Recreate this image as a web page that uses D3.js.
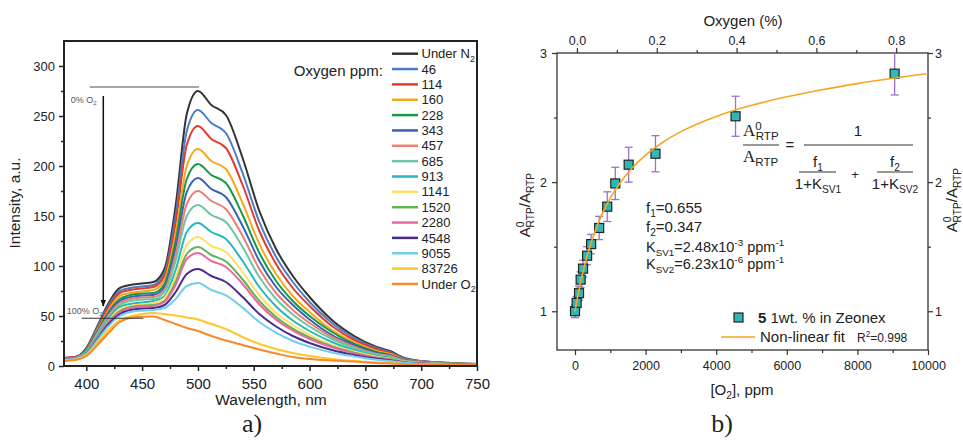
<!DOCTYPE html>
<html>
<head>
<meta charset="utf-8">
<script src="https://cdn.jsdelivr.net/npm/d3@7"></script>
<style>
  body { margin: 0; background: #fff; }
  svg text { font-family: "Liberation Sans", Arial, sans-serif; fill: #222; }
  .serif { font-family: "Liberation Serif", "Times New Roman", serif; }
</style>
</head>
<body>
<svg id="chart" width="963" height="440"></svg>
<script>
// ---- panel a) emission spectra ----
const wavelengths = [380, 390, 400, 410, 420, 430, 445, 460, 470, 480, 490, 500, 512, 525, 540, 555, 570, 585, 600, 620, 640, 660, 672, 685, 700, 750];

const underN2  = [8, 9, 18, 40, 63, 78, 82, 84, 97, 160, 252, 275, 261, 251, 208, 155, 117, 90, 69, 46, 30, 19, 15, 8, 5, 2];
const ppm46    = [8, 9, 17, 39, 61, 75, 79, 81, 93, 151, 235, 256, 243, 233, 193, 144, 109, 84, 64, 43, 28, 18, 14, 7.5, 5, 2];
const ppm114   = [8, 9, 17, 37, 59, 73, 77, 79, 90, 143, 221, 240, 227, 218, 181, 135, 102, 78, 60, 40, 26, 17, 13, 7, 4.6, 1.8];
const ppm160   = [7, 8, 16, 36, 56, 70, 74, 76, 86, 132, 200, 217, 205, 197, 163, 122, 92, 70, 54, 36, 24, 15, 12, 6.6, 4.2, 1.7];
const ppm228   = [7, 8, 16, 35, 54, 67, 72, 73, 82, 125, 187, 202, 191, 183, 151, 113, 85, 65, 50, 34, 22, 14, 11, 6.2, 4, 1.7];
const ppm343   = [7, 8, 15, 34, 53, 65, 70, 71, 79, 118, 174, 188, 177, 169, 140, 105, 79, 61, 46.5, 31, 21, 13, 10.5, 5.8, 3.8, 1.6];
const ppm457   = [7, 8, 15, 33, 51, 63, 68, 69, 76, 111, 162, 175, 165, 157, 130, 97, 73, 56, 43, 29, 19, 12, 10, 5.5, 3.6, 1.6];
const ppm685   = [7, 8, 14, 32, 49, 61, 66, 67, 74, 105, 150, 161, 151, 144, 119, 89, 67, 51.5, 39.5, 27, 18, 11.4, 9, 5.2, 3.4, 1.5];
const ppm913   = [7, 8, 14, 30, 47, 59, 63, 65, 70, 96, 134, 143, 134, 127, 105, 79, 59.5, 45.5, 35, 24, 16, 10, 8, 4.7, 3.1, 1.4];
const ppm1141  = [6, 7, 13, 29, 45, 57, 61, 63, 68, 89, 121, 129, 120, 114, 94, 71, 53, 41, 31, 21, 14.5, 9.3, 7.4, 4.4, 2.9, 1.4];
const ppm1520  = [6, 7, 13, 29, 44, 55, 60, 61, 65, 84, 112, 119, 111, 104.5, 86.5, 65, 49, 37.4, 28.7, 19.7, 13.4, 8.6, 6.9, 4.1, 2.8, 1.3];
const ppm2280  = [6, 7, 13, 28, 44, 54, 59, 60, 64, 81, 107, 113, 105, 99, 82, 61.5, 46.4, 35.3, 27, 18.7, 12.8, 8.2, 6.6, 4, 2.7, 1.3];
const ppm4548  = [6, 7, 12, 27, 42, 52, 57, 58, 61, 74, 92, 97, 90, 84, 69, 52, 39.5, 30, 23, 16, 11, 7.2, 5.7, 3.6, 2.4, 1.2];
const ppm9055  = [6, 7, 12, 26, 40, 50, 55, 56, 58, 67, 80, 83, 76, 70.6, 58.4, 44, 33.4, 25, 19.4, 13.6, 9.6, 6.2, 5, 3.2, 2.2, 1.2];
const ppm83726 = [5.5, 6.5, 11, 23, 36, 46, 51, 53, 52, 50.5, 48.5, 46.5, 42, 37, 29, 22, 17, 13, 10, 7, 5, 3.5, 3, 2, 1.5, 1];
const underO2  = [5, 6, 10, 21, 33, 44, 49, 49.5, 46, 42, 38, 35, 30, 25.5, 21, 16.5, 12.5, 9, 7, 5.5, 4.5, 3, 2.5, 2, 1.5, 1];

const spectra = [underN2, ppm46, ppm114, ppm160, ppm228, ppm343, ppm457, ppm685, ppm913,
                 ppm1141, ppm1520, ppm2280, ppm4548, ppm9055, ppm83726, underO2];
const spectraLabels = ["Under N2", "46", "114", "160", "228", "343", "457", "685", "913",
                       "1141", "1520", "2280", "4548", "9055", "83726", "Under O2"];
const spectraColors = ["#333333", "#4a7cc8", "#e23b2e", "#f5a81c", "#17994a", "#3c62b3", "#ee7d72", "#6cc6a2",
                       "#26b7bf", "#ffe066", "#5cb653", "#e96a9f", "#4a2c8f", "#70cfea", "#ffc72c", "#f7892b"];

const xTicksL = [400, 450, 500, 550, 600, 650, 700, 750];
const xMinorL = [425, 475, 525, 575, 625, 675, 725];
const yTicksL = [0, 50, 100, 150, 200, 250, 300];
const yMinorL = [25, 75, 125, 175, 225, 275];

// ---- panel b) Stern-Volmer ----
const o2ppm    = [0, 46, 114, 160, 228, 343, 457, 685, 913, 1141, 1520, 2280, 4548, 9055];
const ratio    = [1.0, 1.065, 1.14, 1.245, 1.33, 1.43, 1.52, 1.645, 1.81, 1.99, 2.135, 2.22, 2.51, 2.84];
const ratioErr = [0.05, 0.05, 0.055, 0.06, 0.065, 0.07, 0.075, 0.09, 0.115, 0.125, 0.135, 0.14, 0.155, 0.165];
const fitPpm   = [0, 100, 200, 300, 400, 600, 800, 1000, 1300, 1600, 2000, 2500, 3000, 4000, 5000, 6000, 7000, 8000, 9000, 10000];
const fitRatio = [1.0, 1.147, 1.275, 1.385, 1.482, 1.642, 1.771, 1.876, 2.003, 2.104, 2.209, 2.311, 2.391, 2.509, 2.595, 2.661, 2.716, 2.763, 2.804, 2.841];

const xTicksR = [0, 2000, 4000, 6000, 8000, 10000];
const xMinorR = [1000, 3000, 5000, 7000, 9000];
const topTicks = [0, 0.2, 0.4, 0.6, 0.8];
const topMinor = [0.1, 0.3, 0.5, 0.7];
const yTicksR = [1, 2, 3];
const yMinorR = [1.5, 2.5];

const svg = d3.select("#chart");

// text with sub/superscript parts: [text, kind, dx]
function rich(g, x, y, parts, size, anchor) {
  const t = g.append("text").attr("x", x).attr("y", y)
    .attr("font-size", size).attr("text-anchor", anchor || "start");
  let shift = 0;
  parts.forEach(([txt, kind, dx]) => {
    const target = kind === "sub" ? size * 0.25 : kind === "sup" ? -size * 0.38 : 0;
    const s = t.append("tspan").text(txt).attr("dy", target - shift);
    if (kind === "sub" || kind === "sup") s.attr("font-size", size * 0.68);
    if (kind === "bold") s.attr("font-weight", "bold");
    if (dx) s.attr("dx", dx);
    shift = target;
  });
  return t;
}

function styleAxis(g, size, color, width) {
  g.select(".domain").remove();
  g.selectAll(".tick line").attr("stroke", color).attr("stroke-width", width);
  g.selectAll(".tick text").attr("font-size", size).attr("fill", "#222")
    .style("font-family", '"Liberation Sans", Arial, sans-serif');
}

// ================= panel a =================
const xL = d3.scaleLinear().domain([380, 750]).range([64, 477]);
const yL = d3.scaleLinear().domain([0, 325]).range([366, 41]);
const gL = svg.append("g");

const defs = svg.append("defs");
defs.append("clipPath").attr("id", "clipL").append("rect")
  .attr("x", 64).attr("y", 41).attr("width", 413).attr("height", 325);
defs.append("clipPath").attr("id", "clipR").append("rect")
  .attr("x", 557).attr("y", 53).attr("width", 371).attr("height", 297);
defs.append("marker").attr("id", "arrow").attr("viewBox", "0 0 10 10")
  .attr("refX", 9).attr("refY", 5).attr("markerWidth", 7).attr("markerHeight", 7)
  .attr("orient", "auto").attr("markerUnits", "userSpaceOnUse")
  .append("path").attr("d", "M0,1 L10,5 L0,9 Z").attr("fill", "#111");

const specLine = d3.line()
  .x((d, i) => xL(wavelengths[i]))
  .y(d => yL(d))
  .curve(d3.curveMonotoneX);

const curves = gL.append("g").attr("clip-path", "url(#clipL)");
spectra.forEach((s, i) => {
  curves.append("path").attr("d", specLine(s)).attr("fill", "none")
    .attr("stroke", spectraColors[i]).attr("stroke-width", 2).attr("stroke-linejoin", "round");
});

// axes a
const axBL = gL.append("g").attr("transform", "translate(0,366)")
  .call(d3.axisBottom(xL).tickValues(xTicksL).tickSize(5).tickPadding(7).tickFormat(d3.format("d")));
styleAxis(axBL, 15, "#222", 1.5);
const axBLm = gL.append("g").attr("transform", "translate(0,366)")
  .call(d3.axisBottom(xL).tickValues(xMinorL).tickSize(3).tickFormat(""));
styleAxis(axBLm, 15, "#222", 1.5);
const axLL = gL.append("g").attr("transform", "translate(64,0)")
  .call(d3.axisLeft(yL).tickValues(yTicksL).tickSize(5).tickPadding(4));
styleAxis(axLL, 13, "#222", 1.5);
const axLLm = gL.append("g").attr("transform", "translate(64,0)")
  .call(d3.axisLeft(yL).tickValues(yMinorL).tickSize(3).tickFormat(""));
styleAxis(axLLm, 13, "#222", 1.5);

gL.append("rect").attr("x", 64).attr("y", 41).attr("width", 413).attr("height", 325)
  .attr("fill", "none").attr("stroke", "#222").attr("stroke-width", 2);

gL.append("text").attr("transform", "translate(20,203) rotate(-90)")
  .attr("text-anchor", "middle").attr("font-size", 15.5).text("Intensity, a.u.");
gL.append("text").attr("x", 271).attr("y", 405).attr("text-anchor", "middle")
  .attr("font-size", 15.5).text("Wavelength, nm");
gL.append("text").attr("class", "serif").attr("x", 252).attr("y", 432)
  .attr("text-anchor", "middle").attr("font-size", 26).text("a)");

// annotations a
gL.append("line").attr("x1", xL(403)).attr("x2", xL(501)).attr("y1", yL(279)).attr("y2", yL(279))
  .attr("stroke", "#8a8a8a").attr("stroke-width", 1.3);
gL.append("line").attr("x1", xL(396)).attr("x2", xL(451)).attr("y1", yL(47.7)).attr("y2", yL(47.7))
  .attr("stroke", "#333").attr("stroke-width", 1.1);
gL.append("line").attr("x1", xL(415.2)).attr("x2", xL(415.2)).attr("y1", yL(270)).attr("y2", yL(60))
  .attr("stroke", "#111").attr("stroke-width", 1.5).attr("marker-end", "url(#arrow)");
rich(gL, xL(386), yL(263), [["0% O"], ["2", "sub"]], 9).selectAll("tspan").attr("fill", "#555");
rich(gL, xL(382.5), yL(52), [["100% O"], ["2", "sub"]], 9).selectAll("tspan").attr("fill", "#555");

// legend a
gL.append("text").attr("x", 383).attr("y", 76).attr("text-anchor", "end")
  .attr("font-size", 15).text("Oxygen ppm:");
spectraLabels.forEach((lab, i) => {
  const y = 53.7 + i * 15.35;
  gL.append("line").attr("x1", 392).attr("x2", 418).attr("y1", y).attr("y2", y)
    .attr("stroke", spectraColors[i]).attr("stroke-width", 2.5);
  const parts = lab.startsWith("Under") ? [[lab.slice(0, -1)], [lab.slice(-1), "sub"]] : [[lab]];
  rich(gL, 421.5, y + 4.6, parts, 13);
});

// ================= panel b =================
const xR = d3.scaleLinear().domain([-510, 10000]).range([557, 928]);
const xTop = d3.scaleLinear().domain([-0.05, 0.8797]).range([557, 928]);
const yR = d3.scaleLinear().domain([0.7, 3]).range([350, 53]);
const gR = svg.append("g");

const axC = "#333";
const axBR = gR.append("g").attr("transform", "translate(0,350)")
  .call(d3.axisBottom(xR).tickValues(xTicksR).tickSize(5).tickPadding(6).tickFormat(d3.format("d")));
styleAxis(axBR, 12.5, axC, 1.2);
styleAxis(gR.append("g").attr("transform", "translate(0,350)")
  .call(d3.axisBottom(xR).tickValues(xMinorR).tickSize(3).tickFormat("")), 12.5, axC, 1.2);
const axTR = gR.append("g").attr("transform", "translate(0,53)")
  .call(d3.axisTop(xTop).tickValues(topTicks).tickSize(5).tickPadding(3).tickFormat(d3.format(".1f")));
styleAxis(axTR, 12.5, axC, 1.2);
styleAxis(gR.append("g").attr("transform", "translate(0,53)")
  .call(d3.axisTop(xTop).tickValues(topMinor).tickSize(3).tickFormat("")), 12.5, axC, 1.2);
const axLR = gR.append("g").attr("transform", "translate(557,0)")
  .call(d3.axisLeft(yR).tickValues(yTicksR).tickSize(5).tickPadding(5).tickFormat(d3.format("d")));
styleAxis(axLR, 12.5, axC, 1.2);
styleAxis(gR.append("g").attr("transform", "translate(557,0)")
  .call(d3.axisLeft(yR).tickValues(yMinorR).tickSize(3).tickFormat("")), 12.5, axC, 1.2);
const axRR = gR.append("g").attr("transform", "translate(928,0)")
  .call(d3.axisRight(yR).tickValues(yTicksR).tickSize(5).tickPadding(2).tickFormat(d3.format("d")));
styleAxis(axRR, 12.5, axC, 1.2);
styleAxis(gR.append("g").attr("transform", "translate(928,0)")
  .call(d3.axisRight(yR).tickValues(yMinorR).tickSize(3).tickFormat("")), 12.5, axC, 1.2);

gR.append("rect").attr("x", 557).attr("y", 53).attr("width", 371).attr("height", 297)
  .attr("fill", "none").attr("stroke", axC).attr("stroke-width", 1.3);

// data b
const plotR = gR.append("g").attr("clip-path", "url(#clipR)");
const errC = "#9b72c6";
o2ppm.forEach((x, i) => {
  const cx = xR(x), y1 = yR(ratio[i] - ratioErr[i]), y2 = yR(ratio[i] + ratioErr[i]);
  plotR.append("line").attr("x1", cx).attr("x2", cx).attr("y1", y1).attr("y2", y2)
    .attr("stroke", errC).attr("stroke-width", 1.3);
  [y1, y2].forEach(yy => plotR.append("line").attr("x1", cx - 4).attr("x2", cx + 4)
    .attr("y1", yy).attr("y2", yy).attr("stroke", errC).attr("stroke-width", 1.3));
});
plotR.selectAll("rect.pt").data(o2ppm).join("rect").attr("class", "pt")
  .attr("x", d => xR(d) - 4.5).attr("y", (d, i) => yR(ratio[i]) - 4.5)
  .attr("width", 9).attr("height", 9)
  .attr("fill", "#2fb8b8").attr("stroke", "#222").attr("stroke-width", 1.2);
const fitLine = d3.line().x((d, i) => xR(fitPpm[i])).y(d => yR(d)).curve(d3.curveMonotoneX);
plotR.append("path").attr("d", fitLine(fitRatio)).attr("fill", "none")
  .attr("stroke", "#f5a623").attr("stroke-width", 1.6);

// axis labels b
gR.append("text").attr("x", 743).attr("y", 26).attr("text-anchor", "middle")
  .attr("font-size", 15).text("Oxygen (%)");
rich(gR, 742, 395, [["[O"], ["2", "sub"], ["], ppm"]], 15, "middle");
gR.append("text").attr("class", "serif").attr("x", 722).attr("y", 432)
  .attr("text-anchor", "middle").attr("font-size", 26).text("b)");

function ratioLabel(x, y) {
  const t = rich(gR, 0, 0, [["A"], ["0", "sup"], ["RTP", "sub", -6], ["/A"], ["RTP", "sub"]], 15, "middle");
  t.attr("x", null).attr("y", null).attr("transform", `translate(${x},${y}) rotate(-90)`);
}
ratioLabel(530, 205);
ratioLabel(957, 200);

// fit parameters
const pX = 646;
rich(gR, pX, 213, [["f"], ["1", "sub"], ["=0.655"]], 15);
rich(gR, pX, 232, [["f"], ["2", "sub"], ["=0.347"]], 15);
rich(gR, pX, 252, [["K"], ["SV1", "sub"], ["=2.48x10"], ["-3", "sup"], [" ppm"], ["-1", "sup"]], 14.5);
rich(gR, pX, 269, [["K"], ["SV2", "sub"], ["=6.23x10"], ["-6", "sup"], [" ppm"], ["-1", "sup"]], 14.5);

// equation
const eq = gR.append("g");
const eqC = "#333";
const numA = rich(eq, 743, 136, [["A"], ["0", "sup"], ["RTP", "sub", -6]], 17);
numA.attr("class", "serif").selectAll("tspan").filter((d, i) => i > 0)
  .style("font-family", '"Liberation Sans", Arial, sans-serif');
const denA = rich(eq, 743, 162, [["A"], ["RTP", "sub"]], 17);
denA.attr("class", "serif").selectAll("tspan").filter((d, i) => i > 0)
  .style("font-family", '"Liberation Sans", Arial, sans-serif');
eq.append("line").attr("x1", 743).attr("x2", 779).attr("y1", 145).attr("y2", 145)
  .attr("stroke", eqC).attr("stroke-width", 1);
eq.append("text").attr("x", 790).attr("y", 150).attr("text-anchor", "middle").attr("font-size", 15).text("=");
eq.append("line").attr("x1", 804).attr("x2", 913).attr("y1", 145).attr("y2", 145)
  .attr("stroke", eqC).attr("stroke-width", 1);
eq.append("text").attr("x", 858).attr("y", 136).attr("text-anchor", "middle").attr("font-size", 15).text("1");
rich(eq, 818, 167, [["f"], ["1", "sub"]], 15, "middle");
rich(eq, 895, 167, [["f"], ["2", "sub"]], 15, "middle");
eq.append("line").attr("x1", 799).attr("x2", 836).attr("y1", 172).attr("y2", 172)
  .attr("stroke", eqC).attr("stroke-width", 1);
eq.append("line").attr("x1", 877).attr("x2", 913).attr("y1", 172).attr("y2", 172)
  .attr("stroke", eqC).attr("stroke-width", 1);
eq.append("text").attr("x", 855).attr("y", 179).attr("text-anchor", "middle").attr("font-size", 13).text("+");
rich(eq, 818, 189, [["1+K"], ["SV1", "sub"]], 15, "middle");
rich(eq, 895, 189, [["1+K"], ["SV2", "sub"]], 15, "middle");

// legend b
gR.append("rect").attr("x", 734).attr("y", 313).attr("width", 9).attr("height", 9)
  .attr("fill", "#2fb8b8").attr("stroke", "#222").attr("stroke-width", 1.2);
rich(gR, 758, 323, [["5", "bold"], [" 1wt. % in Zeonex"]], 15);
gR.append("line").attr("x1", 721).attr("x2", 755).attr("y1", 337).attr("y2", 337)
  .attr("stroke", "#f5a623").attr("stroke-width", 1.6);
gR.append("text").attr("x", 760).attr("y", 342).attr("font-size", 15).text("Non-linear fit");
rich(gR, 857, 342, [["R"], ["2", "sup"], ["=0.998"]], 12);
</script>
</body>
</html>
